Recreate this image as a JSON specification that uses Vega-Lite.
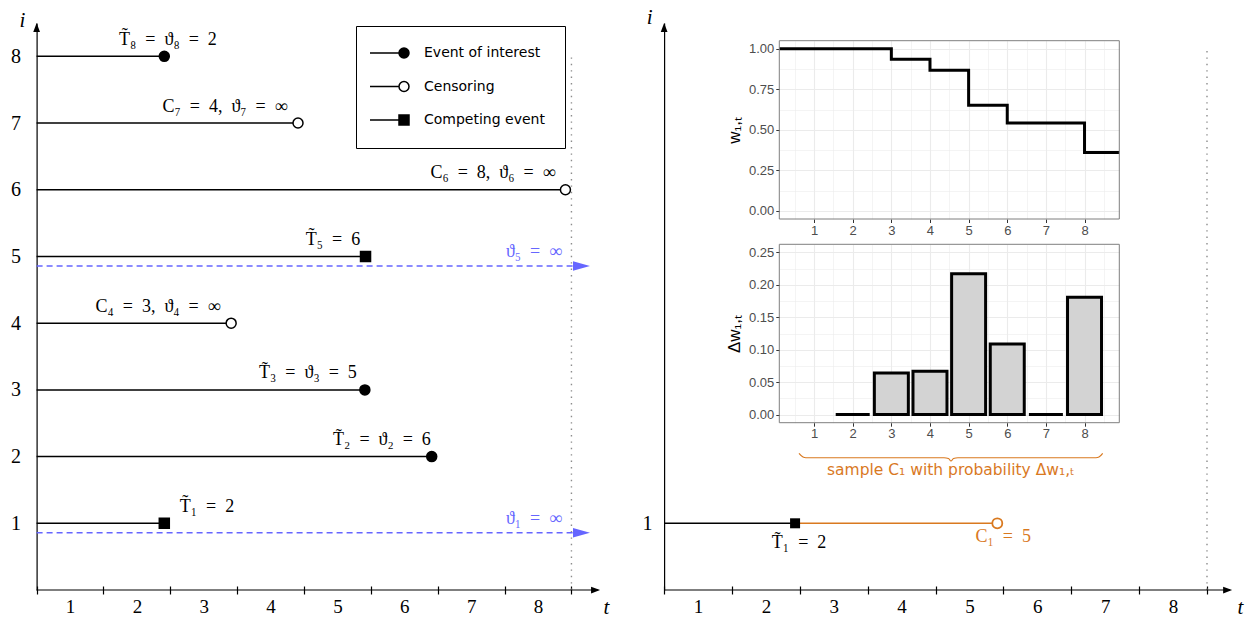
{
  "$schema": "https://vega.github.io/schema/vega-lite/v6.json",
  "width": 1257,
  "height": 625,
  "autosize": "none",
  "padding": 0,
  "background": "white",
  "config": {"view": {"stroke": null}},
  "datasets": {
    "subjects": [
      {"i": 8, "end": 1.91, "type": "Event of interest", "label": "T̃₈\u2002=\u2002ϑ₈\u2002=\u20022", "lx": 1.965},
      {"i": 7, "end": 3.91, "type": "Censoring", "label": "C₇\u2002=\u20024,\u2002ϑ₇\u2002=\u2002∞", "lx": 2.818},
      {"i": 6, "end": 7.91, "type": "Censoring", "label": "C₆\u2002=\u20028,\u2002ϑ₆\u2002=\u2002∞", "lx": 6.826},
      {"i": 5, "end": 4.92, "type": "Competing event", "label": "T̃₅\u2002=\u20026", "lx": 4.433},
      {"i": 4, "end": 2.91, "type": "Censoring", "label": "C₄\u2002=\u20023,\u2002ϑ₄\u2002=\u2002∞", "lx": 1.816},
      {"i": 3, "end": 4.91, "type": "Event of interest", "label": "T̃₃\u2002=\u2002ϑ₃\u2002=\u20025", "lx": 4.059},
      {"i": 2, "end": 5.91, "type": "Event of interest", "label": "T̃₂\u2002=\u2002ϑ₂\u2002=\u20026", "lx": 5.166},
      {"i": 1, "end": 1.91, "type": "Competing event", "label": "T̃₁\u2002=\u20022", "lx": 2.548}
    ],
    "infinite": [
      {"i": 5, "label": "ϑ₅\u2002=\u2002∞"},
      {"i": 1, "label": "ϑ₁\u2002=\u2002∞"}
    ],
    "resample": [
      {"i": 1, "T": 1.93, "C": 4.91, "Tlabel": "T̃₁\u2002=\u20022", "Clabel": "C₁\u2002=\u20025"}
    ],
    "w": [
      {"t": 0, "w": 1}, {"t": 1, "w": 1}, {"t": 2, "w": 1}, {"t": 3, "w": 0.935},
      {"t": 4, "w": 0.868}, {"t": 5, "w": 0.651}, {"t": 6, "w": 0.542},
      {"t": 7, "w": 0.542}, {"t": 8, "w": 0.361}, {"t": 9, "w": 0.361}
    ],
    "dw": [
      {"t": 2, "dw": 0}, {"t": 3, "dw": 0.064}, {"t": 4, "dw": 0.067},
      {"t": 5, "dw": 0.217}, {"t": 6, "dw": 0.109}, {"t": 7, "dw": 0}, {"t": 8, "dw": 0.181}
    ],
    "brace": [
      {"bx": 0.61, "by": -0.0597}, {"bx": 0.713, "by": -0.0654}, {"bx": 0.79, "by": -0.0665},
      {"bx": 4.362, "by": -0.0665}, {"bx": 4.479, "by": -0.0677}, {"bx": 4.544, "by": -0.0715},
      {"bx": 4.609, "by": -0.0677}, {"bx": 4.725, "by": -0.0665}, {"bx": 8.296, "by": -0.0665},
      {"bx": 8.374, "by": -0.0654}, {"bx": 8.47, "by": -0.0597}
    ]
  },
  "resolve": {"scale": {"x": "independent", "y": "independent"}},
  "layer": [
    {
      "resolve": {"scale": {"shape": "independent", "fill": "independent"}, "axis": {"x": "independent", "y": "independent"}},
      "layer": [
        {
          "data": {"values": [{}]},
          "mark": {"type": "rule", "color": "#8C8C8C", "strokeWidth": 1.4, "strokeDash": [1.4, 5]},
          "encoding": {
            "x": {"datum": 8, "type": "quantitative", "axis": null},
            "y": {"datum": 0, "type": "quantitative", "axis": null},
            "y2": {"datum": 8}
          }
        },
        {
          "data": {"name": "subjects"},
          "mark": {"type": "rule", "color": "black", "strokeWidth": 1.5},
          "encoding": {
            "x": {"field": "end", "type": "quantitative",
              "scale": {"domain": [0, 8.43], "range": [36.6, 600.2], "nice": false, "zero": false},
              "axis": {
                "orient": "bottom", "offset": -39,
                "values": [0, 0.5, 1, 1.5, 2, 2.5, 3, 3.5, 4, 4.5, 5, 5.5, 6, 6.5, 7, 7.5, 8],
                "domain": false, "grid": false,
                "tickSize": 8, "tickWidth": 1.2, "tickColor": "black",
                "tickOpacity": {"condition": {"test": "datum.value % 1 === 0", "value": 1}, "value": 0},
                "labelExpr": "datum.value % 1 === 0.5 ? '' + (floor(datum.value) + 1) : ''",
                "labelFont": "Liberation Serif", "labelFontSize": 19, "labelColor": "black", "labelPadding": 3,
                "labelOverlap": false, "labelFlush": false, "labelBound": false,
                "title": "t", "titleFont": "Liberation Serif", "titleFontStyle": "italic", "titleFontWeight": "normal",
                "titleFontSize": 21, "titleColor": "black", "titleAngle": 0, "titleX": 606, "titleY": 21,
                "titleAlign": "center", "titleBaseline": "middle"
              }
            },
            "x2": {"datum": 0},
            "y": {"field": "i", "type": "quantitative",
              "scale": {"domain": [0, 8.5], "range": [590, 23], "nice": false, "zero": false},
              "axis": {
                "orient": "left", "offset": -36.6, "values": [1, 2, 3, 4, 5, 6, 7, 8],
                "domain": true, "domainColor": "black", "domainWidth": 1.2,
                "ticks": false, "grid": false,
                "labelFont": "Liberation Serif", "labelFontSize": 20, "labelColor": "black", "labelPadding": 16,
                "title": "i", "titleFont": "Liberation Serif", "titleFontStyle": "italic", "titleFontWeight": "normal",
                "titleFontSize": 21, "titleColor": "black", "titleAngle": 0, "titleX": -14.6, "titleY": 20,
                "titleAlign": "center", "titleBaseline": "middle"
              }
            }
          }
        },
        {
          "data": {"name": "infinite"},
          "mark": {"type": "rule", "color": "#6666FF", "strokeWidth": 1.5, "strokeDash": [6, 4], "yOffset": 9.5},
          "encoding": {
            "x": {"datum": 0, "type": "quantitative", "axis": null},
            "x2": {"datum": 8.2},
            "y": {"field": "i", "type": "quantitative", "axis": null}
          }
        },
        {
          "data": {"name": "infinite"},
          "mark": {"type": "point", "shape": "M-1,-0.55L1,0L-1,0.55Z", "filled": true, "color": "#6666FF", "size": 289, "opacity": 1, "strokeWidth": 0, "yOffset": 9.5},
          "encoding": {
            "x": {"datum": 8.15, "type": "quantitative", "axis": null},
            "y": {"field": "i", "type": "quantitative", "axis": null}
          }
        },
        {
          "data": {"name": "infinite"},
          "mark": {"type": "text", "font": "Liberation Serif", "fontSize": 18, "color": "#6666FF", "align": "right", "baseline": "middle", "dy": -4.5},
          "encoding": {
            "x": {"datum": 7.86, "type": "quantitative", "axis": null},
            "y": {"field": "i", "type": "quantitative", "axis": null},
            "text": {"field": "label"}
          }
        },
        {
          "data": {"name": "subjects"},
          "mark": {"type": "point", "filled": true, "stroke": "black", "strokeWidth": 1.5, "size": 100, "opacity": 1},
          "encoding": {
            "x": {"field": "end", "type": "quantitative", "axis": null},
            "y": {"field": "i", "type": "quantitative", "axis": null},
            "shape": {"field": "type", "type": "nominal",
              "scale": {"domain": ["Event of interest", "Censoring", "Competing event"], "range": ["circle", "circle", "square"]},
              "legend": null},
            "fill": {"field": "type", "type": "nominal",
              "scale": {"domain": ["Event of interest", "Censoring", "Competing event"], "range": ["black", "white", "black"]},
              "legend": null}
          }
        },
        {
          "data": {"name": "subjects"},
          "mark": {"type": "point", "filled": true, "stroke": "black", "strokeWidth": 1.5, "size": 100, "opacity": 0},
          "encoding": {
            "x": {"field": "end", "type": "quantitative", "axis": null},
            "y": {"field": "i", "type": "quantitative", "axis": null},
            "shape": {"field": "type", "type": "nominal",
              "scale": {"domain": ["Event of interest", "Censoring", "Competing event"],
                "range": ["M-6.8,0L-1,0M1,0A1,1,0,1,1,-1,0A1,1,0,1,1,1,0Z", "M-6.8,0L-1,0M1,0A1,1,0,1,1,-1,0A1,1,0,1,1,1,0Z", "M-6.8,0L-1,0M-1,-1L1,-1L1,1L-1,1Z"]},
              "legend": {
                "title": null, "orient": "none", "legendX": 356, "legendY": 26,
                "padding": 20, "rowPadding": 17.5, "strokeColor": "black", "fillColor": "white",
                "symbolOffset": 21, "labelOffset": 13, "symbolSize": 100, "symbolStrokeWidth": 1.5, "symbolOpacity": 1,
                "labelFont": "DejaVu Sans", "labelFontSize": 14, "labelColor": "black", "labelLimit": 300
              }
            },
            "fill": {"field": "type", "type": "nominal",
              "scale": {"domain": ["Event of interest", "Censoring", "Competing event"], "range": ["black", "white", "black"]},
              "legend": {
                "title": null, "orient": "none", "legendX": 356, "legendY": 26,
                "padding": 20, "rowPadding": 17.5, "strokeColor": "black", "fillColor": "white",
                "symbolOffset": 21, "labelOffset": 13, "symbolSize": 100, "symbolStrokeWidth": 1.5, "symbolOpacity": 1,
                "labelFont": "DejaVu Sans", "labelFontSize": 14, "labelColor": "black", "labelLimit": 300
              }
            }
          }
        },
        {
          "data": {"name": "subjects"},
          "mark": {"type": "text", "font": "Liberation Serif", "fontSize": 18, "color": "black", "align": "center", "baseline": "middle", "dy": -16.5},
          "encoding": {
            "x": {"field": "lx", "type": "quantitative", "axis": null},
            "y": {"field": "i", "type": "quantitative", "axis": null},
            "text": {"field": "label"}
          }
        },
        {
          "data": {"values": [{}]},
          "mark": {"type": "rule", "color": "black", "strokeWidth": 1.2},
          "encoding": {
            "x": {"datum": 0, "type": "quantitative", "axis": null},
            "x2": {"datum": 8.4},
            "y": {"datum": 0, "type": "quantitative", "axis": null}
          }
        },
        {
          "data": {"values": [{}]},
          "mark": {"type": "point", "shape": "M-1,-0.75L1,0L-1,0.75Z", "filled": true, "color": "black", "size": 81, "opacity": 1, "strokeWidth": 0},
          "encoding": {
            "x": {"datum": 8.3606, "type": "quantitative", "axis": null},
            "y": {"datum": 0, "type": "quantitative", "axis": null}
          }
        },
        {
          "data": {"values": [{}]},
          "mark": {"type": "point", "shape": "M-0.75,1L0,-1L0.75,1Z", "filled": true, "color": "black", "size": 81, "opacity": 1, "strokeWidth": 0},
          "encoding": {
            "x": {"datum": 0, "type": "quantitative", "axis": null},
            "y": {"datum": 8.432, "type": "quantitative", "axis": null}
          }
        }
      ]
    },
    {
      "resolve": {"axis": {"x": "independent", "y": "independent"}},
      "layer": [
        {
          "data": {"values": [{}]},
          "mark": {"type": "rule", "color": "#8C8C8C", "strokeWidth": 1.4, "strokeDash": [1.4, 5]},
          "encoding": {
            "x": {"datum": 8, "type": "quantitative", "axis": null},
            "y": {"datum": 0, "type": "quantitative", "axis": null},
            "y2": {"datum": 8.1}
          }
        },
        {
          "data": {"name": "resample"},
          "mark": {"type": "rule", "color": "#D9791F", "strokeWidth": 1.5},
          "encoding": {
            "x": {"field": "T", "type": "quantitative",
              "scale": {"domain": [0, 8.37], "range": [664.1, 1232.1], "nice": false, "zero": false},
              "axis": {
                "orient": "bottom", "offset": -39,
                "values": [0, 0.5, 1, 1.5, 2, 2.5, 3, 3.5, 4, 4.5, 5, 5.5, 6, 6.5, 7, 7.5, 8],
                "domain": false, "grid": false,
                "tickSize": 8, "tickWidth": 1.2, "tickColor": "black",
                "tickOpacity": {"condition": {"test": "datum.value % 1 === 0", "value": 1}, "value": 0},
                "labelExpr": "datum.value % 1 === 0.5 ? '' + (floor(datum.value) + 1) : ''",
                "labelFont": "Liberation Serif", "labelFontSize": 19, "labelColor": "black", "labelPadding": 3,
                "labelOverlap": false, "labelFlush": false, "labelBound": false,
                "title": "t", "titleFont": "Liberation Serif", "titleFontStyle": "italic", "titleFontWeight": "normal",
                "titleFontSize": 21, "titleColor": "black", "titleAngle": 0, "titleX": 1240, "titleY": 21,
                "titleAlign": "center", "titleBaseline": "middle"
              }
            },
            "x2": {"field": "C"},
            "y": {"field": "i", "type": "quantitative",
              "scale": {"domain": [0, 8.5], "range": [590, 23], "nice": false, "zero": false},
              "axis": {
                "orient": "left", "offset": -664.1, "values": [1],
                "domain": true, "domainColor": "black", "domainWidth": 1.2,
                "ticks": false, "grid": false,
                "labelFont": "Liberation Serif", "labelFontSize": 20, "labelColor": "black", "labelPadding": 12,
                "title": "i", "titleFont": "Liberation Serif", "titleFontStyle": "italic", "titleFontWeight": "normal",
                "titleFontSize": 21, "titleColor": "black", "titleAngle": 0, "titleX": -15, "titleY": 17,
                "titleAlign": "center", "titleBaseline": "middle"
              }
            }
          }
        },
        {
          "data": {"name": "resample"},
          "mark": {"type": "rule", "color": "black", "strokeWidth": 1.5},
          "encoding": {
            "x": {"field": "T", "type": "quantitative", "axis": null},
            "x2": {"datum": 0},
            "y": {"field": "i", "type": "quantitative", "axis": null}
          }
        },
        {
          "data": {"name": "resample"},
          "mark": {"type": "point", "shape": "square", "filled": true, "color": "black", "size": 100, "opacity": 1},
          "encoding": {
            "x": {"field": "T", "type": "quantitative", "axis": null},
            "y": {"field": "i", "type": "quantitative", "axis": null}
          }
        },
        {
          "data": {"name": "resample"},
          "mark": {"type": "point", "shape": "circle", "filled": true, "fill": "white", "stroke": "#D9791F", "strokeWidth": 1.8, "size": 100, "opacity": 1},
          "encoding": {
            "x": {"field": "C", "type": "quantitative", "axis": null},
            "y": {"field": "i", "type": "quantitative", "axis": null}
          }
        },
        {
          "data": {"name": "resample"},
          "mark": {"type": "text", "font": "Liberation Serif", "fontSize": 18, "color": "black", "align": "center", "baseline": "middle", "dx": 4, "dy": 20},
          "encoding": {
            "x": {"field": "T", "type": "quantitative", "axis": null},
            "y": {"field": "i", "type": "quantitative", "axis": null},
            "text": {"field": "Tlabel"}
          }
        },
        {
          "data": {"name": "resample"},
          "mark": {"type": "text", "font": "Liberation Serif", "fontSize": 18, "color": "#D9791F", "align": "center", "baseline": "middle", "dx": 6, "dy": 14},
          "encoding": {
            "x": {"field": "C", "type": "quantitative", "axis": null},
            "y": {"field": "i", "type": "quantitative", "axis": null},
            "text": {"field": "Clabel"}
          }
        },
        {
          "data": {"values": [{}]},
          "mark": {"type": "rule", "color": "black", "strokeWidth": 1.2},
          "encoding": {
            "x": {"datum": 0, "type": "quantitative", "axis": null},
            "x2": {"datum": 8.34},
            "y": {"datum": 0, "type": "quantitative", "axis": null}
          }
        },
        {
          "data": {"values": [{}]},
          "mark": {"type": "point", "shape": "M-1,-0.75L1,0L-1,0.75Z", "filled": true, "color": "black", "size": 81, "opacity": 1, "strokeWidth": 0},
          "encoding": {
            "x": {"datum": 8.304, "type": "quantitative", "axis": null},
            "y": {"datum": 0, "type": "quantitative", "axis": null}
          }
        },
        {
          "data": {"values": [{}]},
          "mark": {"type": "point", "shape": "M-0.75,1L0,-1L0.75,1Z", "filled": true, "color": "black", "size": 81, "opacity": 1, "strokeWidth": 0},
          "encoding": {
            "x": {"datum": 0, "type": "quantitative", "axis": null},
            "y": {"datum": 8.432, "type": "quantitative", "axis": null}
          }
        }
      ]
    },
    {
      "resolve": {"axis": {"x": "independent", "y": "independent"}},
      "layer": [
        {
          "data": {"name": "w"},
          "mark": {"type": "point", "opacity": 0},
          "encoding": {
            "x": {"field": "t", "type": "quantitative",
              "scale": {"domain": [0.1, 8.9], "range": [779.3, 1119.3], "nice": false, "zero": false, "clamp": true, "padding": 0},
              "axis": {
                "orient": "top", "values": [0.5, 1, 1.5, 2, 2.5, 3, 3.5, 4, 4.5, 5, 5.5, 6, 6.5, 7, 7.5, 8, 8.5],
                "grid": true, "gridColor": "#EBEBEB",
                "gridWidth": {"condition": {"test": "datum.value % 1 === 0", "value": 1.1}, "value": 0.55},
                "domain": false, "ticks": false, "labels": false, "title": null
              }
            },
            "y": {"field": "w", "type": "quantitative",
              "scale": {"domain": [-0.05, 1.05], "range": [219, 40.7], "nice": false, "zero": false},
              "axis": {
                "orient": "left", "offset": -779.3,
                "values": [0, 0.125, 0.25, 0.375, 0.5, 0.625, 0.75, 0.875, 1],
                "grid": true, "gridColor": "#EBEBEB",
                "gridWidth": {"condition": {"test": "round(datum.value * 1000) % 250 === 0", "value": 1.1}, "value": 0.55},
                "domain": false, "tickSize": 3.5, "tickColor": "#333333", "tickWidth": 1,
                "tickOpacity": {"condition": {"test": "round(datum.value * 1000) % 250 === 0", "value": 1}, "value": 0},
                "labelExpr": "round(datum.value * 1000) % 250 === 0 ? format(datum.value, '.2f') : ''",
                "labelFont": "Liberation Sans", "labelFontSize": 13, "labelColor": "#4D4D4D", "labelPadding": 2,
                "labelOverlap": false, "labelFlush": false,
                "title": "w₁,ₜ", "titleFont": "Liberation Sans", "titleFontSize": 17, "titleFontWeight": "normal",
                "titleColor": "black", "titlePadding": 5
              }
            }
          }
        },
        {
          "data": {"name": "w"},
          "mark": {"type": "line", "interpolate": "step-after", "color": "black", "strokeWidth": 3},
          "encoding": {
            "x": {"field": "t", "type": "quantitative",
              "axis": {
                "orient": "bottom", "offset": -406, "values": [1, 2, 3, 4, 5, 6, 7, 8],
                "grid": false, "domain": false, "tickSize": 3.5, "tickColor": "#333333", "tickWidth": 1,
                "labelFont": "Liberation Sans", "labelFontSize": 13, "labelColor": "#4D4D4D", "labelPadding": 1.5,
                "format": "d", "labelFlush": false, "labelOverlap": false, "title": null
              }
            },
            "y": {"field": "w", "type": "quantitative", "axis": null}
          }
        },
        {
          "data": {"values": [{}]},
          "mark": {"type": "rect", "filled": false, "stroke": "#7F7F7F", "strokeWidth": 1},
          "encoding": {
            "x": {"datum": 0.1, "type": "quantitative", "axis": null},
            "x2": {"datum": 8.9},
            "y": {"datum": -0.05, "type": "quantitative", "axis": null},
            "y2": {"datum": 1.05}
          }
        }
      ]
    },
    {
      "resolve": {"axis": {"x": "independent", "y": "independent"}},
      "layer": [
        {
          "data": {"name": "dw"},
          "mark": {"type": "point", "opacity": 0},
          "encoding": {
            "x": {"field": "t", "type": "quantitative",
              "scale": {"domain": [0.1, 8.9], "range": [779.3, 1119.3], "nice": false, "zero": false, "padding": 0},
              "axis": {
                "orient": "top", "values": [0.5, 1, 1.5, 2, 2.5, 3, 3.5, 4, 4.5, 5, 5.5, 6, 6.5, 7, 7.5, 8, 8.5],
                "grid": true, "gridColor": "#EBEBEB",
                "gridWidth": {"condition": {"test": "datum.value % 1 === 0", "value": 1.1}, "value": 0.55},
                "domain": false, "ticks": false, "labels": false, "title": null
              }
            },
            "y": {"field": "dw", "type": "quantitative",
              "scale": {"domain": [-0.0125, 0.2625], "range": [422.7, 244.3], "nice": false, "zero": false, "padding": 0},
              "axis": {
                "orient": "left", "offset": -779.3,
                "values": [0, 0.025, 0.05, 0.075, 0.1, 0.125, 0.15, 0.175, 0.2, 0.225, 0.25],
                "grid": true, "gridColor": "#EBEBEB",
                "gridWidth": {"condition": {"test": "round(datum.value * 1000) % 50 === 0", "value": 1.1}, "value": 0.55},
                "domain": false, "tickSize": 3.5, "tickColor": "#333333", "tickWidth": 1,
                "tickOpacity": {"condition": {"test": "round(datum.value * 1000) % 50 === 0", "value": 1}, "value": 0},
                "labelExpr": "round(datum.value * 1000) % 50 === 0 ? format(datum.value, '.2f') : ''",
                "labelFont": "Liberation Sans", "labelFontSize": 13, "labelColor": "#4D4D4D", "labelPadding": 2,
                "labelOverlap": false, "labelFlush": false,
                "title": "Δw₁,ₜ", "titleFont": "Liberation Sans", "titleFontSize": 17, "titleFontWeight": "normal",
                "titleColor": "black", "titlePadding": 5
              }
            }
          }
        },
        {
          "data": {"name": "dw"},
          "mark": {"type": "bar", "orient": "vertical", "width": 34, "fill": "#D3D3D3", "stroke": "black", "strokeWidth": 3},
          "encoding": {
            "x": {"field": "t", "type": "quantitative",
              "axis": {
                "orient": "bottom", "offset": -202.3, "values": [1, 2, 3, 4, 5, 6, 7, 8],
                "grid": false, "domain": false, "tickSize": 3.5, "tickColor": "#333333", "tickWidth": 1,
                "labelFont": "Liberation Sans", "labelFontSize": 13, "labelColor": "#4D4D4D", "labelPadding": 1.5,
                "format": "d", "labelFlush": false, "labelOverlap": false, "title": null
              }
            },
            "y": {"field": "dw", "type": "quantitative", "axis": null},
            "y2": {"datum": 0}
          }
        },
        {
          "data": {"values": [{}]},
          "mark": {"type": "rect", "filled": false, "stroke": "#7F7F7F", "strokeWidth": 1},
          "encoding": {
            "x": {"datum": 0.1, "type": "quantitative", "axis": null},
            "x2": {"datum": 8.9},
            "y": {"datum": -0.0125, "type": "quantitative", "axis": null},
            "y2": {"datum": 0.2625}
          }
        },
        {
          "data": {"name": "brace"},
          "mark": {"type": "line", "interpolate": "monotone", "color": "#D9791F", "strokeWidth": 1.2},
          "encoding": {
            "x": {"field": "bx", "type": "quantitative", "axis": null},
            "y": {"field": "by", "type": "quantitative", "axis": null}
          }
        },
        {
          "data": {"values": [{}]},
          "mark": {"type": "text", "text": "sample C₁ with probability Δw₁,ₜ", "font": "DejaVu Sans", "fontSize": 15.5, "color": "#D9791F", "align": "center", "baseline": "middle"},
          "encoding": {
            "x": {"datum": 4.54, "type": "quantitative", "axis": null},
            "y": {"datum": -0.0854, "type": "quantitative", "axis": null}
          }
        }
      ]
    }
  ]
}
